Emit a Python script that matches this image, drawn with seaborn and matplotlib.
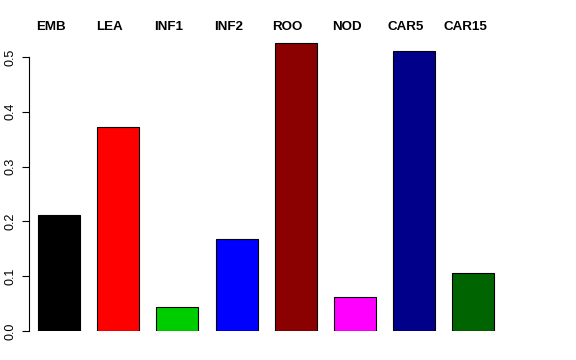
import seaborn as sns
import pandas as pd
import matplotlib.pyplot as plt

# values
tissues = ["EMB", "LEA", "INF1", "INF2", "ROO", "NOD", "CAR5", "CAR15"]
values = [0.212, 0.372, 0.044, 0.168, 0.526, 0.062, 0.511, 0.106]
colors = ["#000000", "#FF0000", "#00CD00", "#0000FF",
          "#8B0000", "#FF00FF", "#00008B", "#006400"]
yticks = [0.0, 0.1, 0.2, 0.3, 0.4, 0.5]

sns.set_style("white")
plt.rcParams['font.family'] = ['Liberation Sans', 'DejaVu Sans']
plt.rcParams['text.color'] = 'black'
plt.rcParams['ytick.color'] = 'black'

df = pd.DataFrame({"tissue": tissues, "value": values})

fig = plt.figure(figsize=(5.76, 3.6), dpi=100)
ax = fig.add_axes([29 / 576, 1 - 331 / 360, (520 - 29) / 576, (331 - 41) / 360])

sns.barplot(data=df, x="tissue", y="value", hue="tissue", palette=colors,
            width=0.71, legend=False, edgecolor="black", linewidth=0.8,
            saturation=1, ax=ax)

ax.set_xlim(-0.507, 7.79)
ax.set_ylim(0, 0.529)
ax.set_xticks([])
ax.set_xlabel("")
ax.set_ylabel("")
ax.set_yticks(yticks)
ax.set_yticklabels([f"{t:.1f}" for t in yticks], rotation=90, va="center",
                   fontsize=9, color="black")
ax.tick_params(axis="y", left=True, length=5, width=0.8, pad=4, color="black")
for s in ["top", "right", "bottom"]:
    ax.spines[s].set_visible(False)
ax.spines["left"].set_bounds(0, 0.5)
ax.spines["left"].set_color("black")
ax.spines["left"].set_linewidth(0.8)

# labels above the bars
for i, name in enumerate(tissues):
    ax.text(i - 0.14, 0.555, name, ha="center", va="center", color="black",
            fontsize=9.6, fontweight="bold", clip_on=False)

fig.savefig("out.png", dpi=100)
